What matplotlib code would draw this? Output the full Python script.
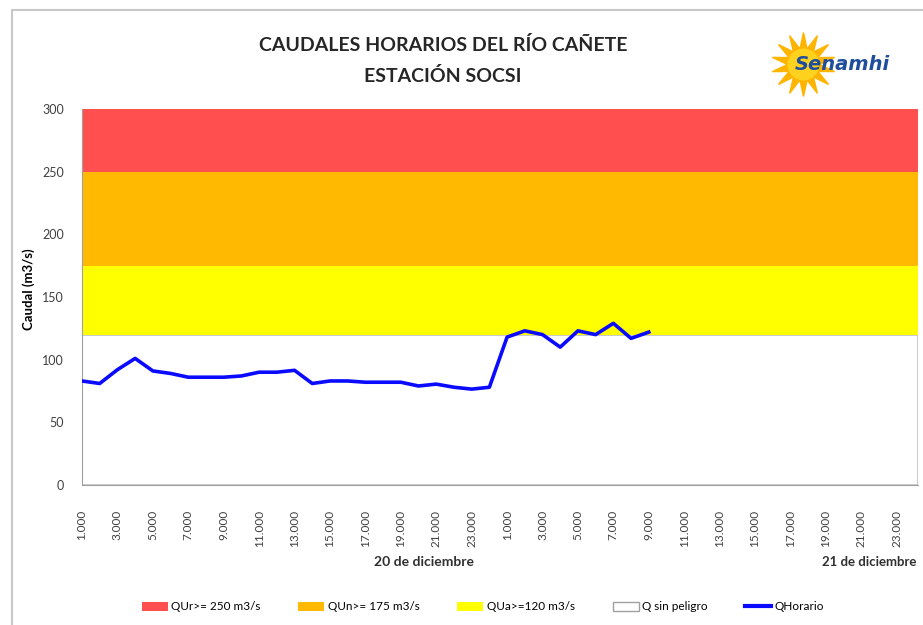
import matplotlib.pyplot as plt
from matplotlib.patches import Patch
from matplotlib.lines import Line2D

# hourly labels for two days (1:00 .. 24:00)
horas = [f"{h}.000" for h in range(1, 25)] * 2
caudal = [83, 81, 92, 101, 91, 89, 86, 86, 86, 87, 90, 90, 91.5, 81, 83, 83,
          82, 82, 82, 79, 80.5, 78, 76.5, 78,
          118, 123, 120, 110, 123, 120, 129, 117, 122]
umbrales = [0, 120, 175, 250, 300]
band_colors = ['#ffffff', '#ffff00', '#ffb900', '#ff4f4f']
band_labels = ['Q sin peligro', 'QUa>=120 m3/s', 'QUn>= 175 m3/s', 'QUr>= 250 m3/s']
dias = ['20 de diciembre', '21 de diciembre']

plt.rcParams['font.family'] = ['Lato', 'DejaVu Sans']

fig = plt.figure(figsize=(9.23, 6.25), dpi=100)
ax = fig.add_axes([82 / 923, 140 / 625, 836 / 923, 376 / 625])

# threshold bands
for i in range(len(umbrales) - 1):
    ec = '#c0c0c0' if i == 0 else 'none'
    ax.axhspan(umbrales[i], umbrales[i + 1], facecolor=band_colors[i],
               edgecolor=ec, lw=1.2, zorder=1)

ax.plot(range(len(caudal)), caudal, color='#0a0aff', lw=2.6, zorder=3)

ax.set_ylim(0, 300)
ax.set_xlim(0, 47.2)
ax.set_yticks(range(0, 301, 50))
ax.set_xticks(range(0, 48, 2))
ax.set_xticklabels(horas[::2], rotation=90, fontsize=8.5, color='#404040')
ax.tick_params(axis='x', length=0, pad=18)
ax.tick_params(axis='y', length=0, pad=13, labelsize=9, labelcolor='#404040')
for s in ax.spines.values():
    s.set_color('#a0a0a0')
ax.spines['top'].set_visible(False)
ax.spines['right'].set_visible(False)
ax.set_ylabel('Caudal (m3/s)', fontsize=9.5, fontweight='bold')
ax.yaxis.set_label_coords(-0.056, 0.52)

# day labels under the hour ticks
ax.text(19.3, -0.205, dias[0], transform=ax.get_xaxis_transform(),
        ha='center', va='center', fontsize=10, fontweight='bold', color='#303030')
ax.text(41.8, -0.205, dias[1], transform=ax.get_xaxis_transform(),
        ha='left', va='center', fontsize=9.5, fontweight='bold', color='#303030')

fig.text(443 / 923, 1 - 45 / 625, 'CAUDALES HORARIOS DEL RÍO CAÑETE',
         ha='center', va='center', fontsize=14, fontweight='bold', color='#262626')
fig.text(443 / 923, 1 - 76 / 625, 'ESTACIÓN SOCSI',
         ha='center', va='center', fontsize=14, fontweight='bold', color='#262626')

# logo
fig.add_artist(Line2D([803 / 923], [1 - 64 / 625], marker=(14, 1, 0), markersize=46,
                      color='#ffb400', transform=fig.transFigure))
fig.add_artist(Line2D([803 / 923], [1 - 64 / 625], marker='o', markersize=22,
                      color='#ffd21f', transform=fig.transFigure))
fig.text(795 / 923, 1 - 64 / 625, 'Senamhi', fontsize=14, fontweight='bold',
         style='italic', color='#1f4e9c', va='center', family=['DejaVu Sans'])

# chart frame
fig.add_artist(Line2D([12 / 923, 12 / 923, 1], [0, 1 - 10 / 625, 1 - 10 / 625],
                      color='#c8c8c8', lw=1.5, transform=fig.transFigure))

handles = [Patch(facecolor=band_colors[3], edgecolor='none'),
           Patch(facecolor=band_colors[2], edgecolor='none'),
           Patch(facecolor=band_colors[1], edgecolor='none'),
           Patch(facecolor=band_colors[0], edgecolor='#a0a0a0'),
           Line2D([], [], color='#0a0aff', lw=3)]
labels = [band_labels[3], band_labels[2], band_labels[1], band_labels[0], 'QHorario']
fig.legend(handles, labels, loc='center', bbox_to_anchor=(483 / 923, 1 - 607 / 625),
           ncol=5, frameon=False, fontsize=8.5, handlelength=2.2, handleheight=0.7,
           columnspacing=3.2, handletextpad=0.3)

fig.savefig('out.png', dpi=100)
